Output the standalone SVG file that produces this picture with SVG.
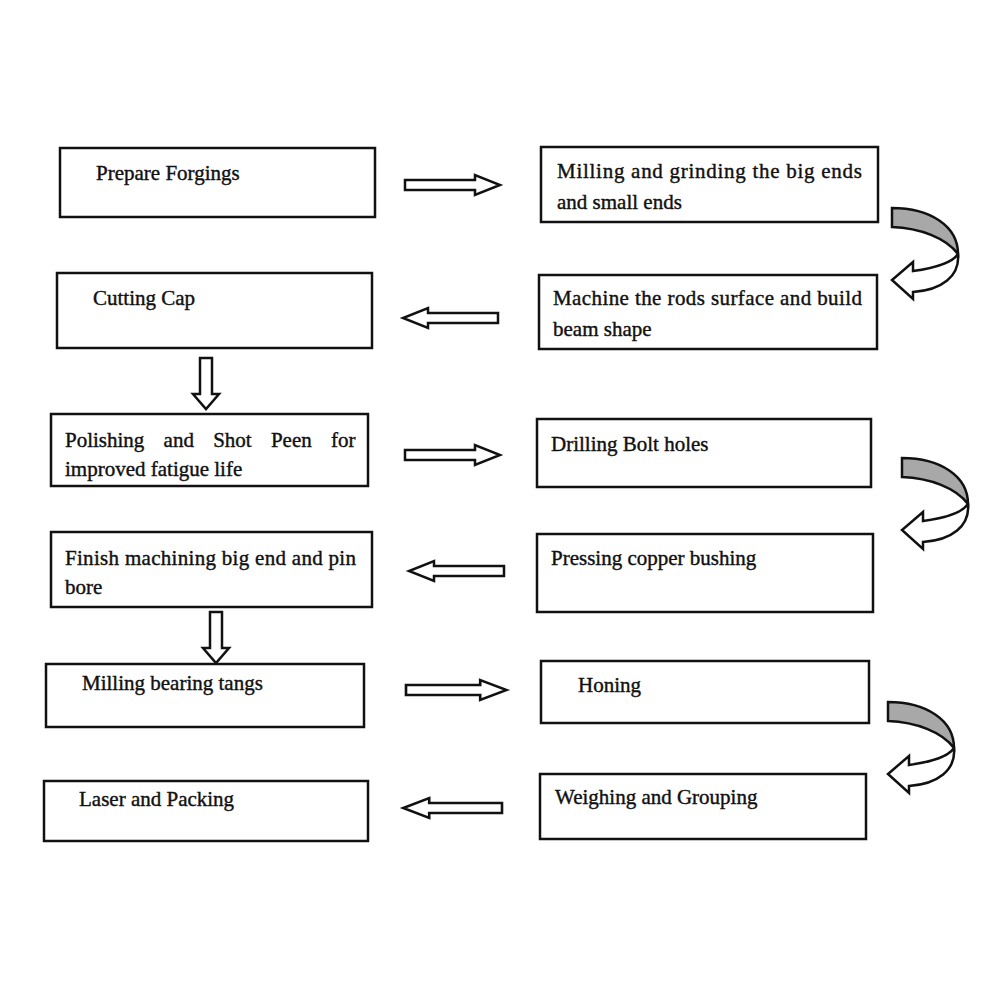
<svg xmlns="http://www.w3.org/2000/svg" width="1000" height="1000" viewBox="0 0 1000 1000">
<style>
.box{fill:#fff;stroke:#111;stroke-width:2.5}
.t{font-family:"Liberation Serif","Times New Roman",serif;font-size:21px;fill:#111;stroke:#111;stroke-width:0.4}
.ba{fill:#fff;stroke:#111;stroke-width:2.5;stroke-linejoin:miter}
.gray{fill:#a8a8a8;stroke:#111;stroke-width:2.5}
</style>
<defs>
<path id="rarrow" d="M0,-5 H70 V-10 L95,0 L70,10 V5 H0 Z"/>
<path id="darrow" d="M-6,0 V36 H-13 L0,51 L13,36 H6 V0 Z"/>
<g id="curl">
<path class="gray" d="M892,208 C930,208 958,226 958,254 C946,238 920,228 892,227 Z"/>
<path class="ba" d="M958,254 C960,276 942,290 913,292 L913,299 L892,280 L913,262 L913,271 C935,268 952,263 958,254 Z"/>
</g>
</defs>
<rect width="1000" height="1000" fill="#fff"/>
<g id="n1"><rect class="box" x="60" y="148" width="315" height="69"/><text class="t" x="96" y="180">Prepare Forgings</text></g>
<g id="n2"><rect class="box" x="541" y="147" width="337" height="75"/><text class="t" x="557" y="178" textLength="305" lengthAdjust="spacing">Milling and grinding the big ends</text><text class="t" x="557" y="209">and small ends</text></g>
<g id="n3"><rect class="box" x="57" y="273" width="315" height="75"/><text class="t" x="93" y="305">Cutting Cap</text></g>
<g id="n4"><rect class="box" x="539" y="275" width="338" height="74"/><text class="t" x="553" y="305" textLength="309" lengthAdjust="spacing">Machine the rods surface and build</text><text class="t" x="553" y="336">beam shape</text></g>
<g id="n5"><rect class="box" x="51" y="414" width="317" height="72"/><text class="t" x="65" y="447" word-spacing="14">Polishing and Shot Peen for</text><text class="t" x="65" y="476">improved fatigue life</text></g>
<g id="n6"><rect class="box" x="537" y="419" width="334" height="68"/><text class="t" x="551" y="451">Drilling Bolt holes</text></g>
<g id="n7"><rect class="box" x="51" y="532" width="321" height="75"/><text class="t" x="65" y="565" textLength="291" lengthAdjust="spacing">Finish machining big end and pin</text><text class="t" x="65" y="594">bore</text></g>
<g id="n8"><rect class="box" x="537" y="534" width="336" height="78"/><text class="t" x="551" y="565">Pressing copper bushing</text></g>
<g id="n9"><rect class="box" x="46" y="664" width="318" height="63"/><text class="t" x="82" y="690">Milling bearing tangs</text></g>
<g id="n10"><rect class="box" x="541" y="661" width="328" height="62"/><text class="t" x="578" y="692">Honing</text></g>
<g id="n11"><rect class="box" x="44" y="781" width="324" height="60"/><text class="t" x="79" y="806">Laser and Packing</text></g>
<g id="n12"><rect class="box" x="540" y="774" width="326" height="65"/><text class="t" x="555" y="804">Weighing and Grouping</text></g>
<g id="connectors">
<use href="#rarrow" class="ba" transform="translate(405,185)"/>
<use href="#rarrow" class="ba" transform="translate(498,318) scale(-1,1)"/>
<use href="#darrow" class="ba" transform="translate(206,358)"/>
<use href="#rarrow" class="ba" transform="translate(405,455)"/>
<use href="#rarrow" class="ba" transform="translate(504,571) scale(-1,1)"/>
<use href="#darrow" class="ba" transform="translate(216,612)"/>
<use href="#rarrow" class="ba" transform="translate(406,690) scale(1.06,1)"/>
<use href="#rarrow" class="ba" transform="translate(502,808) scale(-1.04,1)"/>
<use href="#curl"/>
<use href="#curl" transform="translate(10,250)"/>
<use href="#curl" transform="translate(-4,494)"/>
</g>
</svg>
